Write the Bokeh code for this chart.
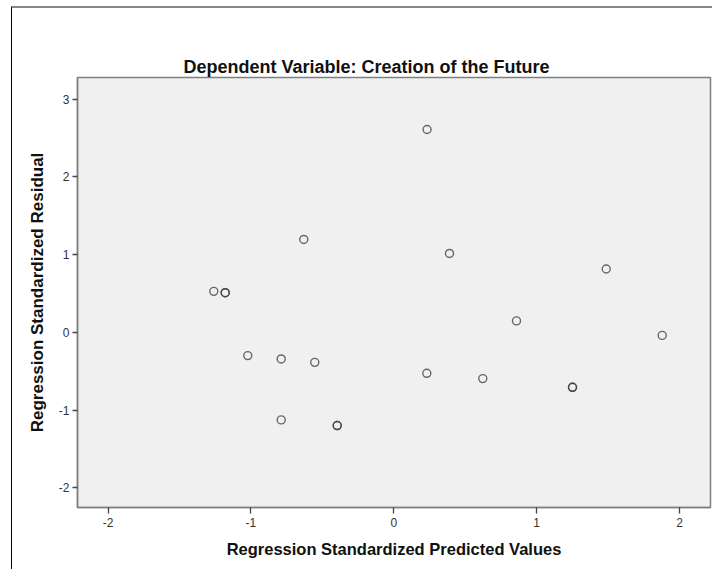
from bokeh.plotting import figure
from bokeh.models import FixedTicker, Title, ColumnDataSource
from bokeh.embed import file_html
from bokeh.resources import INLINE

# Data (standardized predicted value, standardized residual)
pred_values = [0.233, -0.630, 0.390, 1.487, -1.260, -1.180, -1.180, 0.859, 1.879,
               -1.022, -0.788, -0.553, 0.231, 0.623, 1.251, 1.251, -0.788, -0.396, -0.396]
residuals = [2.609, 1.195, 1.015, 0.815, 0.527, 0.510, 0.510, 0.147, -0.039,
             -0.299, -0.342, -0.386, -0.527, -0.595, -0.707, -0.707, -1.126, -1.199, -1.199]
x_ticks = [-2, -1, 0, 1, 2]
y_ticks = [-2, -1, 0, 1, 2, 3]

title_text = "Dependent Variable: Creation of the Future"
x_label = "Regression Standardized Predicted Values"
y_label = "Regression Standardized Residual"

FONT = "Liberation Sans"

p = figure(width=701, height=563, output_backend="svg", toolbar_location=None,
           x_range=(-2.214, 2.217), y_range=(-2.253, 3.278),
           min_border_left=65, min_border_right=3, min_border_top=69, min_border_bottom=64)
p.styles = {"border-left": "1px solid #000000", "border-top": "2px solid #888888",
            "margin-left": "11px", "margin-top": "6px"}

p.background_fill_color = "#f0f0f0"
p.border_fill_color = "white"
p.outline_line_color = "#7f7f7f"
p.outline_line_width = 1.5
p.xgrid.visible = False
p.ygrid.visible = False

t = Title(text=title_text, align="left", offset=106, standoff=2,
          text_font=FONT, text_font_size="18px", text_font_style="bold", text_color="#111111")
p.add_layout(t, "above")

for ax, ticks in ((p.xaxis[0], x_ticks), (p.yaxis[0], y_ticks)):
    ax.ticker = FixedTicker(ticks=ticks)
    ax.major_label_overrides = {v: str(v) for v in ticks}
    ax.minor_tick_line_color = None
    ax.major_tick_in = 0
    ax.major_tick_out = 6
    ax.major_tick_line_color = "#444444"
    ax.major_tick_line_width = 1.3
    ax.axis_line_color = "#7f7f7f"
    ax.axis_line_width = 1.5
    ax.major_label_text_font = FONT
    ax.major_label_text_font_size = "12px"
    ax.major_label_text_color = "#333333"
    ax.axis_label_text_font = FONT
    ax.axis_label_text_font_style = "bold"
    ax.axis_label_text_color = "#111111"

p.xaxis.axis_label = x_label
p.yaxis.axis_label = y_label
p.xaxis.axis_label_text_font_size = "16.5px"
p.yaxis.axis_label_text_font_size = "17px"
p.yaxis.major_tick_out = 5
p.xaxis.major_label_standoff = 4
p.yaxis.major_label_standoff = 3
p.xaxis.axis_label_standoff = 10
p.yaxis.axis_label_standoff = 9

src = ColumnDataSource(data=dict(x=pred_values, y=residuals))
p.scatter("x", "y", source=src, size=8, marker="circle", fill_color=None,
          line_color="#3a3a3a", line_alpha=0.75, line_width=1.4)

open("out.html", "w").write(file_html(p, INLINE))
